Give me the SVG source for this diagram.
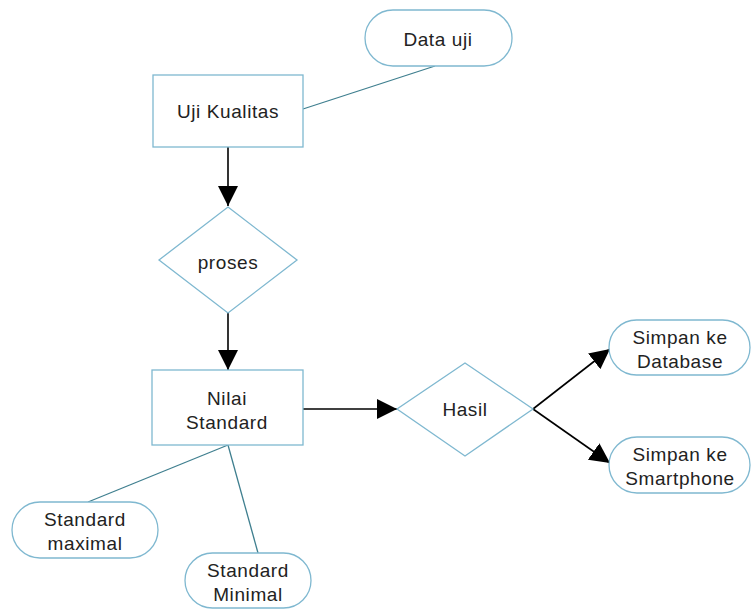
<svg xmlns="http://www.w3.org/2000/svg" width="754" height="610" viewBox="0 0 754 610">
<style>
.n{fill:#ffffff;stroke:#7fb8d0;stroke-width:1.3}
.t{font-family:"Liberation Sans",Arial,sans-serif;font-size:19px;fill:#222;text-anchor:middle;letter-spacing:0.6px}
.l{stroke:#3f7f8f;stroke-width:1.3;fill:none}
.a{stroke:#000;stroke-width:1.6;fill:none;marker-end:url(#ah)}
</style>
<defs>
<marker id="ah" markerWidth="20" markerHeight="20" viewBox="0 0 20 20" refX="20" refY="10" orient="auto" markerUnits="userSpaceOnUse">
<path d="M0,0 L20,10 L0,20 Z" fill="#000"/>
</marker>
</defs>
<rect width="754" height="610" fill="#ffffff"/>
<g id="connectors">
<line class="l" x1="303" y1="109" x2="435" y2="66"/>
<line class="a" x1="228" y1="147" x2="228" y2="206"/>
<line class="a" x1="228" y1="313" x2="228" y2="370"/>
<line class="a" x1="303" y1="409" x2="397" y2="409"/>
<line class="a" x1="533" y1="409" x2="610" y2="349"/>
<line class="a" x1="533" y1="409" x2="610" y2="463"/>
<line class="l" x1="228" y1="445" x2="88" y2="502"/>
<line class="l" x1="228" y1="445" x2="258" y2="553"/>
</g>
<g id="data-uji">
<rect class="n" x="365" y="10" width="147" height="56" rx="28"/>
<text class="t" x="438" y="46">Data uji</text>
</g>
<g id="uji-kualitas">
<rect class="n" x="153" y="75" width="150" height="72"/>
<text class="t" x="228" y="118">Uji Kualitas</text>
</g>
<g id="proses">
<polygon class="n" points="228,207 297,260 228,313 159,260"/>
<text class="t" x="228" y="269">proses</text>
</g>
<g id="nilai-standard">
<rect class="n" x="152" y="370" width="151" height="75"/>
<text class="t" x="227" y="405">Nilai</text>
<text class="t" x="227" y="429">Standard</text>
</g>
<g id="hasil">
<polygon class="n" points="465,363 533,409 465,456 397,409"/>
<text class="t" x="465" y="416">Hasil</text>
</g>
<g id="simpan-database">
<rect class="n" x="609" y="320" width="141" height="55" rx="27.5"/>
<text class="t" x="680" y="344">Simpan ke</text>
<text class="t" x="680" y="368">Database</text>
</g>
<g id="simpan-smartphone">
<rect class="n" x="609" y="437" width="141" height="56" rx="28"/>
<text class="t" x="680" y="461">Simpan ke</text>
<text class="t" x="680" y="485">Smartphone</text>
</g>
<g id="standard-maximal">
<rect class="n" x="12" y="502" width="146" height="56" rx="28"/>
<text class="t" x="85" y="526">Standard</text>
<text class="t" x="85" y="550">maximal</text>
</g>
<g id="standard-minimal">
<rect class="n" x="185" y="553" width="126" height="55" rx="27.5"/>
<text class="t" x="248" y="577">Standard</text>
<text class="t" x="248" y="601">Minimal</text>
</g>
</svg>
